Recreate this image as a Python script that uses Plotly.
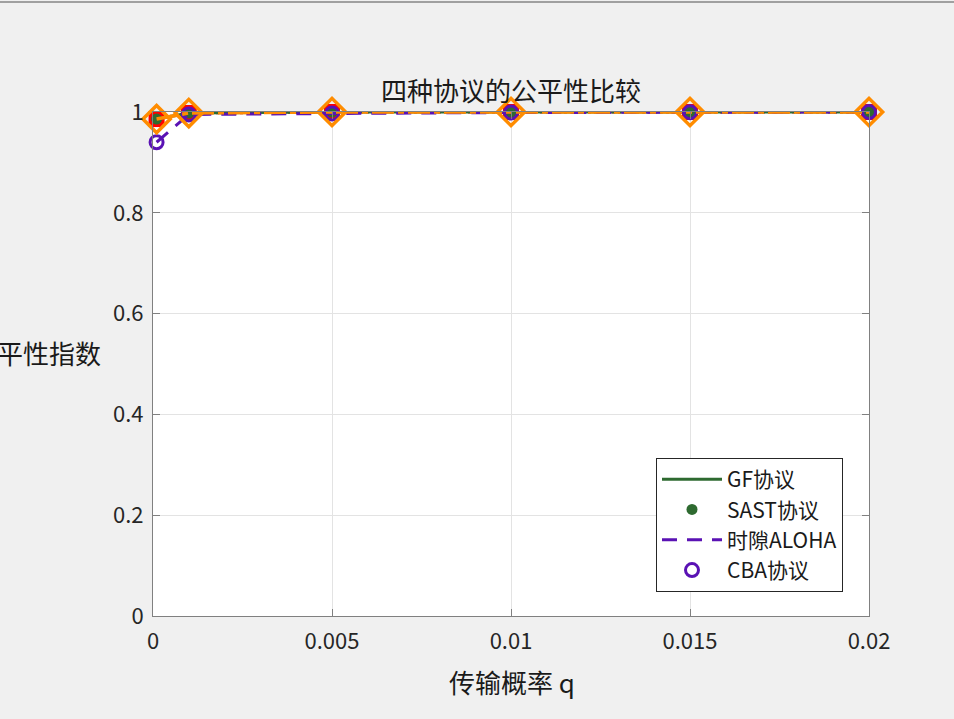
import plotly.graph_objects as go

# transmission probability q
q = [0.0001, 0.001, 0.005, 0.01, 0.015, 0.02]

# fairness index per protocol
gf_fair = [0.986, 0.998, 1.0, 1.0, 1.0, 1.0]
sast_fair = [0.986, 0.998, 1.0, 1.0, 1.0, 1.0]
aloha_fair = [0.940, 0.995, 0.997, 0.999, 0.9995, 1.0]
cba_fair = [0.940, 0.995, 0.997, 0.999, 0.9995, 1.0]
extra_a = [0.986, 0.998, 1.0, 1.0, 1.0, 1.0]
extra_b = [0.986, 0.998, 1.0, 1.0, 1.0, 1.0]

x_ticks = [0, 0.005, 0.01, 0.015, 0.02]
x_tick_text = ['0', '0.005', '0.01', '0.015', '0.02']
y_ticks = [0, 0.2, 0.4, 0.6, 0.8, 1]
y_tick_text = ['0', '0.2', '0.4', '0.6', '0.8', '1']

GREEN = '#2e6a30'
PURPLE = '#5a12b4'
RED = '#ff0000'
ORANGE = '#ff8c00'
FONT = 'Noto Sans CJK SC'

fig = go.Figure()

# red dotted line with squares (not in legend)
fig.add_trace(go.Scatter(
    x=q, y=extra_a, mode='lines+markers', showlegend=False,
    line=dict(color=RED, width=3, dash='dot'),
    marker=dict(symbol='square', size=16, color=RED),
    cliponaxis=False
))

fig.add_trace(go.Scatter(
    x=q, y=gf_fair, mode='lines', name='GF协议',
    line=dict(color=GREEN, width=3),
    cliponaxis=False
))

fig.add_trace(go.Scatter(
    x=q, y=sast_fair, mode='markers', name='SAST协议',
    marker=dict(symbol='circle', size=11, color=GREEN),
    cliponaxis=False
))

fig.add_trace(go.Scatter(
    x=q, y=aloha_fair, mode='lines', name='时隙ALOHA',
    line=dict(color=PURPLE, width=3, dash='15px,10px'),
    cliponaxis=False
))

fig.add_trace(go.Scatter(
    x=q, y=cba_fair, mode='markers', name='CBA协议',
    marker=dict(symbol='circle-open', size=13, color=PURPLE,
                line=dict(color=PURPLE, width=3)),
    cliponaxis=False
))

# orange dash-dot line with open diamonds (not in legend)
fig.add_trace(go.Scatter(
    x=q, y=extra_b, mode='lines+markers', showlegend=False,
    line=dict(color=ORANGE, width=3.5, dash='22px,4px,6px,4px'),
    marker=dict(symbol='diamond-open', size=21, color=ORANGE,
                line=dict(color=ORANGE, width=3.5)),
    cliponaxis=False
))

L, R, T, B = 153, 869, 112, 616
W, H = 954, 719

axis_common = dict(
    showline=True, linecolor='#808080', linewidth=1, mirror='ticks',
    ticks='inside', ticklen=7, tickcolor='#808080',
    showgrid=True, gridcolor='#e3e3e3', gridwidth=1,
    zeroline=False, tickfont=dict(family=FONT, size=22, color='#262626'),
)

fig.update_xaxes(range=[0, 0.02], tickvals=x_ticks, ticktext=x_tick_text,
                 ticklabelstandoff=6, **axis_common)
fig.update_yaxes(range=[0, 1], tickvals=y_ticks, ticktext=y_tick_text,
                 ticklabelstandoff=4, **axis_common)

pw, ph = R - L, B - T

fig.update_layout(
    width=W, height=H,
    margin=dict(l=L, r=W - R, t=T, b=H - B, pad=0),
    paper_bgcolor='#f0f0f0',
    plot_bgcolor='white',
    font=dict(family=FONT, color='#262626'),
    title=dict(text='四种协议的公平性比较', font=dict(family=FONT, size=26, color='#1a1a1a'),
               x=511 / W, xanchor='center', y=1 - 92 / H, yanchor='middle', yref='container'),
    showlegend=True,
    legend=dict(
        x=(843 - L) / pw, y=(B - 592) / ph, xanchor='right', yanchor='bottom',
        bgcolor='white', bordercolor='#262626', borderwidth=1,
        font=dict(family=FONT, size=21, color='#1a1a1a'),
        itemwidth=60, tracegroupgap=0,
    ),
    annotations=[
        dict(text='公平性指数', xref='paper', yref='paper',
             x=(103 - L) / pw, y=(B - 352) / ph, xanchor='right', yanchor='middle',
             showarrow=False, font=dict(family=FONT, size=26, color='#1a1a1a')),
        dict(text='传输概率 q', xref='paper', yref='paper',
             x=(512 - L) / pw, y=(B - 681) / ph, xanchor='center', yanchor='middle',
             showarrow=False, font=dict(family=FONT, size=26, color='#1a1a1a')),
    ],
    shapes=[
        dict(type='line', xref='paper', yref='paper',
             x0=-L / pw, x1=(W - L) / pw, y0=(B - 2) / ph, y1=(B - 2) / ph,
             line=dict(color='#a0a0a0', width=2)),
    ],
)

fig.write_html("out.html", config={'displayModeBar': False},
               post_script="document.body.style.margin='0';document.body.style.overflow='hidden';")
